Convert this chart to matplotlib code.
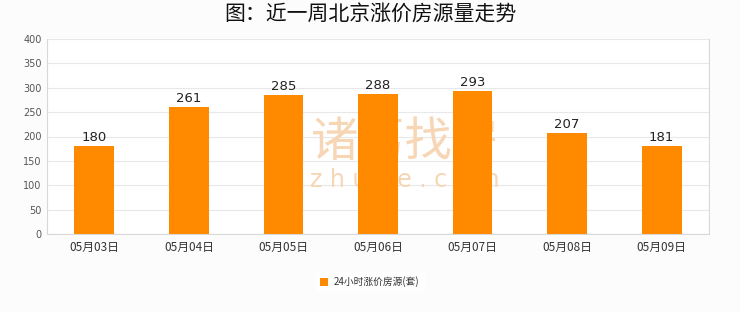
import matplotlib
matplotlib.use("Agg")
import matplotlib.pyplot as plt

plt.rcParams['font.family'] = ['Noto Sans CJK SC', 'DejaVu Sans']

categories = ["05月03日", "05月04日", "05月05日", "05月06日", "05月07日", "05月08日", "05月09日"]
values = [180, 261, 285, 288, 293, 207, 181]
series_name = "24小时涨价房源(套)"
yticks = [0, 50, 100, 150, 200, 250, 300, 350, 400]
title = "图：近一周北京涨价房源量走势"

orange = "#FF8A00"

fig = plt.figure(figsize=(7.4, 3.12), dpi=100, facecolor="#fcfcfc")
ax = fig.add_axes([47/740, 1-234/312, (709-47)/740, (234-39)/312])
ax.set_facecolor("white")

x = list(range(len(categories)))
bars = ax.bar(x, values, width=0.42, color=orange, zorder=3, label=series_name)
ax.set_xlim(-0.5, len(categories)-0.5)
ax.set_ylim(0, 400)
ax.set_yticks(yticks)
ax.set_yticklabels([str(t) for t in yticks], fontsize=7, color="#555555", family="DejaVu Sans")
ax.set_xticks(x)
ax.set_xticklabels(categories, fontsize=8.5, color="#333333")
ax.tick_params(axis='both', length=0, pad=4)
ax.tick_params(axis='x', pad=5)
ax.grid(axis='y', color="#e8e8e8", linewidth=0.8, zorder=0)
for side in ['left', 'bottom', 'right']:
    ax.spines[side].set_color("#d8d8d8")
    ax.spines[side].set_linewidth(0.8)
ax.spines['top'].set_visible(False)

for xi, v in zip(x, values):
    ax.text(xi, v + 4, str(v), ha='center', va='bottom', fontsize=9.5, color="#222222",
            family="DejaVu Sans", zorder=4)

# watermark (behind bars)
ax.text(405/740, 1-143/312, "诸葛找房", transform=fig.transFigure, ha='center', va='center',
        fontsize=34, color="#f7d6b5", zorder=2)
ax.text(405/740, 1-180/312, "z h u g e . c o m", transform=fig.transFigure, ha='center', va='center',
        fontsize=17, color="#f7d6b5", zorder=2, family="DejaVu Sans")

fig.suptitle(title, x=0.5, y=1-15/312, va='center', fontsize=15, fontweight='normal', color="#111111")

leg = fig.legend(handles=[bars], labels=[series_name], loc='center', bbox_to_anchor=(0.5, 1-282/312),
                 frameon=True, fontsize=7, handlelength=0.8, handleheight=0.8, handletextpad=0.6,
                 borderpad=0.5, fancybox=False, labelcolor="#333333")
leg.get_frame().set_facecolor("white")
leg.get_frame().set_edgecolor("white")

fig.savefig("out.png", dpi=100, facecolor=fig.get_facecolor())
